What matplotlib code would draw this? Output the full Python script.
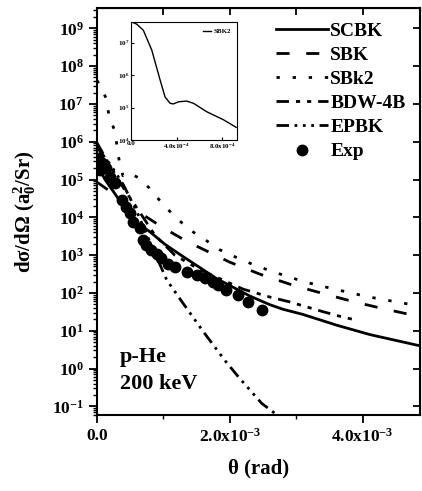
import matplotlib
matplotlib.use("Agg")
import matplotlib.pyplot as plt
from matplotlib.ticker import LogLocator, NullLocator, FixedLocator, FixedFormatter, NullFormatter

plt.rcParams['font.family'] = 'Liberation Serif'
plt.rcParams['font.weight'] = 'bold'
plt.rcParams['axes.labelweight'] = 'bold'
plt.rcParams['mathtext.fontset'] = 'custom'
plt.rcParams['mathtext.rm'] = 'Liberation Serif:bold'
plt.rcParams['mathtext.it'] = 'Liberation Serif:bold:italic'
plt.rcParams['mathtext.bf'] = 'Liberation Serif:bold'

# theta in units of 1e-3 rad
scbk_x = [0.0, 0.12, 0.27, 0.42, 0.57, 0.80, 1.02, 1.29, 1.80, 2.30, 2.60, 2.80, 3.10, 3.61, 4.11, 4.86]
scbk_y = [2.5e5, 1.0e5, 4.2e4, 1.7e4, 7.9e3, 4.1e3, 1.95e3, 9.3e2, 2.4e2, 83, 49, 37, 27, 14, 7.9, 4.0]

sbk_x = [0.0, 0.196, 0.421, 0.752, 0.947, 1.173, 1.354, 2.0, 2.46, 2.95, 3.39, 3.84, 4.29, 4.75, 4.86]
sbk_y = [8.5e4, 4.9e4, 2.2e4, 1.0e4, 6.0e3, 3.5e3, 2.3e3, 6.5e2, 3.1e2, 1.6e2, 98, 60, 39, 26, 23.5]

sbk2_x = [0.0, 0.135, 0.18, 0.27, 0.30, 0.33, 0.39, 0.48, 0.63, 0.79, 0.99, 1.14, 1.28, 1.42, 1.65,
          1.85, 2.05, 2.24, 2.41, 2.57, 2.77, 3.13, 3.55, 4.08, 4.71, 4.86]
sbk2_y = [4.2e7, 1.45e7, 5.0e6, 1.86e6, 7.9e5, 3.5e5, 1.26e5, 1.5e5, 1.1e5, 5.9e4, 2.24e4, 1.2e4, 7.1e3,
          4.4e3, 2.4e3, 1.38e3, 9.5e2, 6.8e2, 5.1e2, 4.1e2, 3.1e2, 1.95e2, 1.29e2, 79, 50, 46]

bdw_x = [0.0, 0.19, 0.42, 0.64, 0.87, 1.17, 1.55, 2.20, 2.60, 2.90, 3.40, 3.70, 3.91]
bdw_y = [9.3e5, 2.4e5, 5.2e4, 1.4e4, 3.4e3, 1.0e3, 4.1e2, 1.26e2, 78, 58, 32, 23, 19]

epbk_x = [0.0, 0.2, 0.4, 0.6, 0.8, 1.05, 1.30, 1.60, 1.93, 2.13, 2.48, 2.80]
epbk_y = [7.1e5, 2.5e5, 7.1e4, 1.4e4, 2.2e3, 2.2e2, 52, 9.5, 1.6, 0.6, 0.12, 0.045]

exp_x = [0.0, 0.015, 0.04, 0.07, 0.13, 0.19, 0.27, 0.37, 0.44, 0.49, 0.54, 0.64, 0.69, 0.74, 0.82,
         0.90, 0.97, 1.07, 1.17, 1.35, 1.50, 1.62, 1.75, 1.82, 1.95, 2.13, 2.28, 2.48]
exp_y = [3.5e5, 3.7e5, 1.8e5, 2.7e5, 2.0e5, 1.2e5, 7.9e4, 2.9e4, 1.9e4, 1.3e4, 7.6e3, 5.1e3, 2.5e3,
         1.9e3, 1.35e3, 1.1e3, 8.3e2, 6.0e2, 4.9e2, 3.6e2, 2.95e2, 2.45e2, 2.0e2, 1.6e2, 1.2e2, 87, 59, 35]

# inset: theta in units of 1e-4 rad
ins_x = [0.0, 0.5, 1.08, 1.82, 2.55, 2.99, 3.43, 3.72, 4.16, 4.89, 5.48, 6.65, 8.11, 9.23]
ins_y = [4.4e7, 3.7e7, 2.4e7, 5.9e6, 7.1e5, 2.1e5, 1.35e5, 1.29e5, 1.5e5, 1.58e5, 1.35e5, 7.4e4, 4.2e4, 2.45e4]

fig = plt.figure(figsize=(4.22, 4.91), dpi=100)
ax = fig.add_axes([97 / 422, 1 - 415 / 491, 323 / 422, 407 / 491])

lw = 2
ax.plot([v * 1e-3 for v in scbk_x], scbk_y, color='black', lw=lw, ls='-', label='SCBK')
ax.plot([v * 1e-3 for v in sbk_x], sbk_y, color='black', lw=lw, ls=(0, (4.7, 6)), label='SBK')
ax.plot([v * 1e-3 for v in sbk2_x], sbk2_y, color='black', lw=lw, ls=(0, (1.2, 4.6)), label='SBk2')
ax.plot([v * 1e-3 for v in bdw_x], bdw_y, color='black', lw=lw, ls=(0, (4.5, 2.5, 1.5, 2.5, 1.5, 2.5)), label='BDW-4B')
ax.plot([v * 1e-3 for v in epbk_x], epbk_y, color='black', lw=lw, ls=(0, (4.5, 2, 1, 2, 1, 2, 1, 2)), label='EPBK')
ax.plot([v * 1e-3 for v in exp_x], exp_y, 'o', color='black', ms=7.5, label='Exp')

ax.set_yscale('log')
ax.set_xlim(0, 4.864e-3)
ax.set_ylim(0.059, 3.44e9)

ax.yaxis.set_major_locator(LogLocator(base=10, numticks=20))
ax.yaxis.set_minor_locator(LogLocator(base=10, subs=range(2, 10), numticks=20))
ax.yaxis.set_minor_formatter(NullFormatter())
ax.xaxis.set_major_locator(FixedLocator([0, 2e-3, 4e-3]))
ax.xaxis.set_major_formatter(FixedFormatter(['0.0', r'$2.0\mathrm{x}10^{-3}$', r'$4.0\mathrm{x}10^{-3}$']))
ax.xaxis.set_minor_locator(FixedLocator([1e-3, 3e-3]))
ax.tick_params(axis='both', which='major', direction='out', length=6, width=1.3, labelsize=12.5)
ax.tick_params(axis='both', which='minor', direction='out', length=3, width=1)

top = ax.secondary_xaxis('top')
top.xaxis.set_major_locator(FixedLocator([1e-3, 2e-3, 3e-3, 4e-3]))
top.tick_params(direction='in', length=5, width=1.3, labelbottom=False, labeltop=False)
right = ax.secondary_yaxis('right')
right.yaxis.set_major_locator(LogLocator(base=10, numticks=20))
right.yaxis.set_minor_locator(NullLocator())
right.tick_params(direction='in', length=5, width=1.3, labelleft=False, labelright=False)

for sp in ax.spines.values():
    sp.set_linewidth(1.5)

ax.set_xlabel('θ (rad)', fontsize=15, labelpad=9)
ax.set_ylabel(r'dσ/dΩ (a$_0^2$/Sr)', fontsize=15, labelpad=10)

ax.text(0.07, 0.13, 'p-He', transform=ax.transAxes, fontsize=16)
ax.text(0.07, 0.065, '200 keV', transform=ax.transAxes, fontsize=16)

ax.legend(loc='upper right', bbox_to_anchor=(1.0, 1.0), frameon=False, fontsize=14,
          handlelength=2.7, handletextpad=0.1, labelspacing=0.33, borderaxespad=0.35)

# inset
ins = fig.add_axes([131 / 422, 1 - 140 / 491, 106 / 422, 118 / 491])
ins.plot([v * 1e-4 for v in ins_x], ins_y, color='black', lw=1, label='SBK2')
ins.set_yscale('log')
ins.set_xlim(0, 9.3e-4)
ins.set_ylim(1e4, 4.3e7)
ins.yaxis.set_major_locator(LogLocator(base=10, numticks=10))
ins.yaxis.set_minor_locator(NullLocator())
ins.xaxis.set_major_locator(FixedLocator([0, 4e-4, 8e-4]))
ins.xaxis.set_major_formatter(FixedFormatter(['0.0', r'$4.0\mathrm{x}10^{-4}$', r'$8.0\mathrm{x}10^{-4}$']))
ins.tick_params(direction='in', length=2, width=0.8, labelsize=5, pad=1)
for sp in ins.spines.values():
    sp.set_linewidth(0.8)
ins.legend(loc='upper right', frameon=False, fontsize=5, handlelength=1.2, handletextpad=0.3)

fig.savefig('out.png', dpi=100)
